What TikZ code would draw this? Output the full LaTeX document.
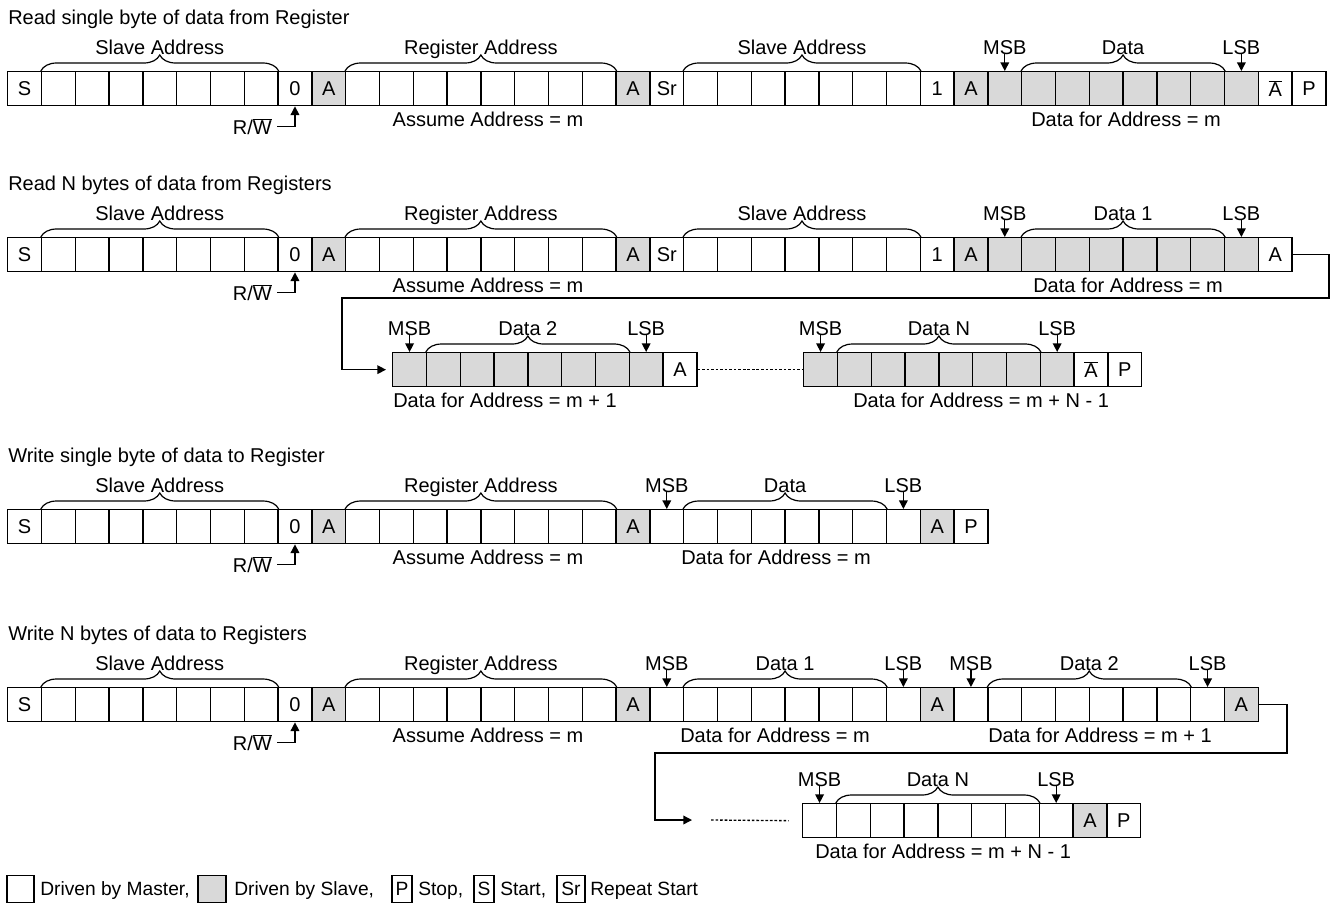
\documentclass[tikz,border=0pt]{standalone}
\usepackage{fontspec}
\setmainfont{Liberation Sans}
\usetikzlibrary{calc,arrows.meta,decorations.pathreplacing}
\definecolor{cg}{RGB}{217,217,217}
\colorlet{cw}{white}
\newcommand\ab{$\overline{\mbox{A}}$}
\newcommand\cellrow[4]{\foreach \t/\f [count=\i from 0] in {#4}{\node[cell,fill=\f] (#1-\i) at ({#2+\i*33.8},{#3}) {\t};}}
\newcommand\brlab[4]{\draw[brc] (#2.north west) -- (#3.north east);
  \node[lbl] (#1) at ($(#2.north west)!0.5!(#3.north east)+(0,-17)$) {#4};}
\newcommand\bitarrow[3]{\node[lbl] (#1) at ($(#2.north)+(0,-17)$) {#3};
  \draw[arr] (#1.base) -- (#2.north);}
\newcommand\rwlab[2]{\node[lbl,anchor=east] (#1) at ($(#2.south)+(-23,20)$) {R/$\overline{\mbox{W}}$};
  \draw[arr] ([xshift=4pt]#1.east) -| (#2.south);}
\begin{document}
\begin{tikzpicture}[x=0.75pt,y=-0.75pt,
  txt/.style={font=\fontsize{15}{18}\selectfont},
  cell/.style={draw,line width=1pt,minimum width=25.35pt,minimum height=25.5pt,inner sep=0pt,anchor=north west,txt},
  lbl/.style={inner sep=0pt,anchor=base,txt},
  ttl/.style={inner sep=0pt,anchor=base west,txt},
  lgt/.style={inner sep=0pt,anchor=base west,font=\fontsize{14.4}{17}\selectfont},
  brc/.style={line width=0.9pt,decorate,decoration={brace,amplitude=12pt}},
  arr/.style={line width=1pt,-{Triangle[length=6.5pt,width=6.5pt]}},
  dotl/.style={line width=1pt,dash pattern=on 2pt off 1.4pt},
  lgbox/.style={draw,line width=1pt,minimum height=20.25pt,inner sep=0pt,font=\fontsize{14.4}{17}\selectfont}]
\useasboundingbox (0,0) rectangle (1333,918);

% ---------------- Row 1
\node[ttl] (t1) at (8,24) {Read single byte of data from Register};
\cellrow{r1}{7}{71}{S/cw,{}/cw,{}/cw,{}/cw,{}/cw,{}/cw,{}/cw,{}/cw,0/cw,A/cg,{}/cw,{}/cw,{}/cw,{}/cw,{}/cw,{}/cw,{}/cw,{}/cw,A/cg,Sr/cw,{}/cw,{}/cw,{}/cw,{}/cw,{}/cw,{}/cw,{}/cw,1/cw,A/cg,{}/cg,{}/cg,{}/cg,{}/cg,{}/cg,{}/cg,{}/cg,{}/cg,\ab/cw,P/cw}
\brlab{b1a}{r1-1}{r1-7}{Slave Address}
\brlab{b1b}{r1-10}{r1-17}{Register Address}
\brlab{b1c}{r1-20}{r1-26}{Slave Address}
\brlab{b1d}{r1-30}{r1-35}{Data}
\bitarrow{m1}{r1-29}{MSB}
\bitarrow{l1}{r1-36}{LSB}
\rwlab{rw1}{r1-8}
\node[lbl] (a1) at (488,126) {Assume Address = m};
\node[lbl] (d1) at (1126,126) {Data for Address = m};

% ---------------- Row 2
\node[ttl] (t2) at (8,190) {Read N bytes of data from Registers};
\cellrow{r2}{7}{237}{S/cw,{}/cw,{}/cw,{}/cw,{}/cw,{}/cw,{}/cw,{}/cw,0/cw,A/cg,{}/cw,{}/cw,{}/cw,{}/cw,{}/cw,{}/cw,{}/cw,{}/cw,A/cg,Sr/cw,{}/cw,{}/cw,{}/cw,{}/cw,{}/cw,{}/cw,{}/cw,1/cw,A/cg,{}/cg,{}/cg,{}/cg,{}/cg,{}/cg,{}/cg,{}/cg,{}/cg,A/cw}
\brlab{b2a}{r2-1}{r2-7}{Slave Address}
\brlab{b2b}{r2-10}{r2-17}{Register Address}
\brlab{b2c}{r2-20}{r2-26}{Slave Address}
\brlab{b2d}{r2-30}{r2-35}{Data 1}
\bitarrow{m2}{r2-29}{MSB}
\bitarrow{l2}{r2-36}{LSB}
\rwlab{rw2}{r2-8}
\node[lbl] (a2) at (488,292) {Assume Address = m};
\node[lbl] (d2) at (1128,292) {Data for Address = m};

\cellrow{r2b}{392}{352}{{}/cg,{}/cg,{}/cg,{}/cg,{}/cg,{}/cg,{}/cg,{}/cg,A/cw}
\brlab{b2e}{r2b-1}{r2b-6}{Data 2}
\bitarrow{m2b}{r2b-0}{MSB}
\bitarrow{l2b}{r2b-7}{LSB}
\node[ttl] (d2b) at (393,407) {Data for Address = m + 1};

\cellrow{r2n}{803}{352}{{}/cg,{}/cg,{}/cg,{}/cg,{}/cg,{}/cg,{}/cg,{}/cg,\ab/cw,P/cw}
\brlab{b2f}{r2n-1}{r2n-6}{Data N}
\bitarrow{m2n}{r2n-0}{MSB}
\bitarrow{l2n}{r2n-7}{LSB}
\node[ttl] (d2n) at (853,407) {Data for Address = m + N - 1};

\coordinate (k2a) at (1329,298);
\coordinate (k2b) at (342,298);
\draw[arr] (r2-37.east) -| (k2a) -- (k2b) |- ([xshift=-4.5pt]r2b-0.west);
\draw[dotl] (r2b-8.east) -- (r2n-0.west);

% ---------------- Row 3
\node[ttl] (t3) at (8,462) {Write single byte of data to Register};
\cellrow{r3}{7}{509}{S/cw,{}/cw,{}/cw,{}/cw,{}/cw,{}/cw,{}/cw,{}/cw,0/cw,A/cg,{}/cw,{}/cw,{}/cw,{}/cw,{}/cw,{}/cw,{}/cw,{}/cw,A/cg,{}/cw,{}/cw,{}/cw,{}/cw,{}/cw,{}/cw,{}/cw,{}/cw,A/cg,P/cw}
\brlab{b3a}{r3-1}{r3-7}{Slave Address}
\brlab{b3b}{r3-10}{r3-17}{Register Address}
\brlab{b3c}{r3-20}{r3-25}{Data}
\bitarrow{m3}{r3-19}{MSB}
\bitarrow{l3}{r3-26}{LSB}
\rwlab{rw3}{r3-8}
\node[lbl] (a3) at (488,564) {Assume Address = m};
\node[lbl] (d3) at (776,564) {Data for Address = m};

% ---------------- Row 4
\node[ttl] (t4) at (8,640) {Write N bytes of data to Registers};
\cellrow{r4}{7}{687}{S/cw,{}/cw,{}/cw,{}/cw,{}/cw,{}/cw,{}/cw,{}/cw,0/cw,A/cg,{}/cw,{}/cw,{}/cw,{}/cw,{}/cw,{}/cw,{}/cw,{}/cw,A/cg,{}/cw,{}/cw,{}/cw,{}/cw,{}/cw,{}/cw,{}/cw,{}/cw,A/cg,{}/cw,{}/cw,{}/cw,{}/cw,{}/cw,{}/cw,{}/cw,{}/cw,A/cg}
\brlab{b4a}{r4-1}{r4-7}{Slave Address}
\brlab{b4b}{r4-10}{r4-17}{Register Address}
\brlab{b4c}{r4-20}{r4-25}{Data 1}
\brlab{b4d}{r4-29}{r4-34}{Data 2}
\bitarrow{m4}{r4-19}{MSB}
\bitarrow{l4}{r4-26}{LSB}
\bitarrow{m4b}{r4-28}{MSB}
\bitarrow{l4b}{r4-35}{LSB}
\rwlab{rw4}{r4-8}
\node[lbl] (a4) at (488,742) {Assume Address = m};
\node[lbl] (d4) at (775,742) {Data for Address = m};
\node[lbl] (d4b) at (1100,742) {Data for Address = m + 1};

\cellrow{r4b}{802}{803}{{}/cw,{}/cw,{}/cw,{}/cw,{}/cw,{}/cw,{}/cw,{}/cw,A/cg,P/cw}
\brlab{b4e}{r4b-1}{r4b-6}{Data N}
\bitarrow{m4c}{r4b-0}{MSB}
\bitarrow{l4c}{r4b-7}{LSB}
\node[ttl] (d4n) at (815,858) {Data for Address = m + N - 1};

\coordinate (k4a) at (1287,753);
\coordinate (k4b) at (655,753);
\coordinate (k4t) at (692,820);
\coordinate (k4d) at (711,820);
\draw[arr] (r4-36.east) -| (k4a) -- (k4b) |- (k4t);
\draw[dotl] (k4d) -- ([xshift=-10pt]r4b-0.west);

% ---------------- Legend
\node[lgbox,minimum width=20.25pt] (g1) at (20.5,889) {};
\node[lgt] (g1t) at (40,895) {Driven by Master,};
\node[lgbox,minimum width=21pt,fill=cg] (g2) at (212,889) {};
\node[lgt] (g2t) at (234,895) {Driven by Slave,};
\node[lgbox,minimum width=15pt] (g3) at (402,889) {P};
\node[lgt] (g3t) at (418,895) {Stop,};
\node[lgbox,minimum width=15pt] (g4) at (484,889) {S};
\node[lgt] (g4t) at (500,895) {Start,};
\node[lgbox,minimum width=21pt] (g5) at (571,889) {Sr};
\node[lgt] (g5t) at (590,895) {Repeat Start};
\end{tikzpicture}
\end{document}
